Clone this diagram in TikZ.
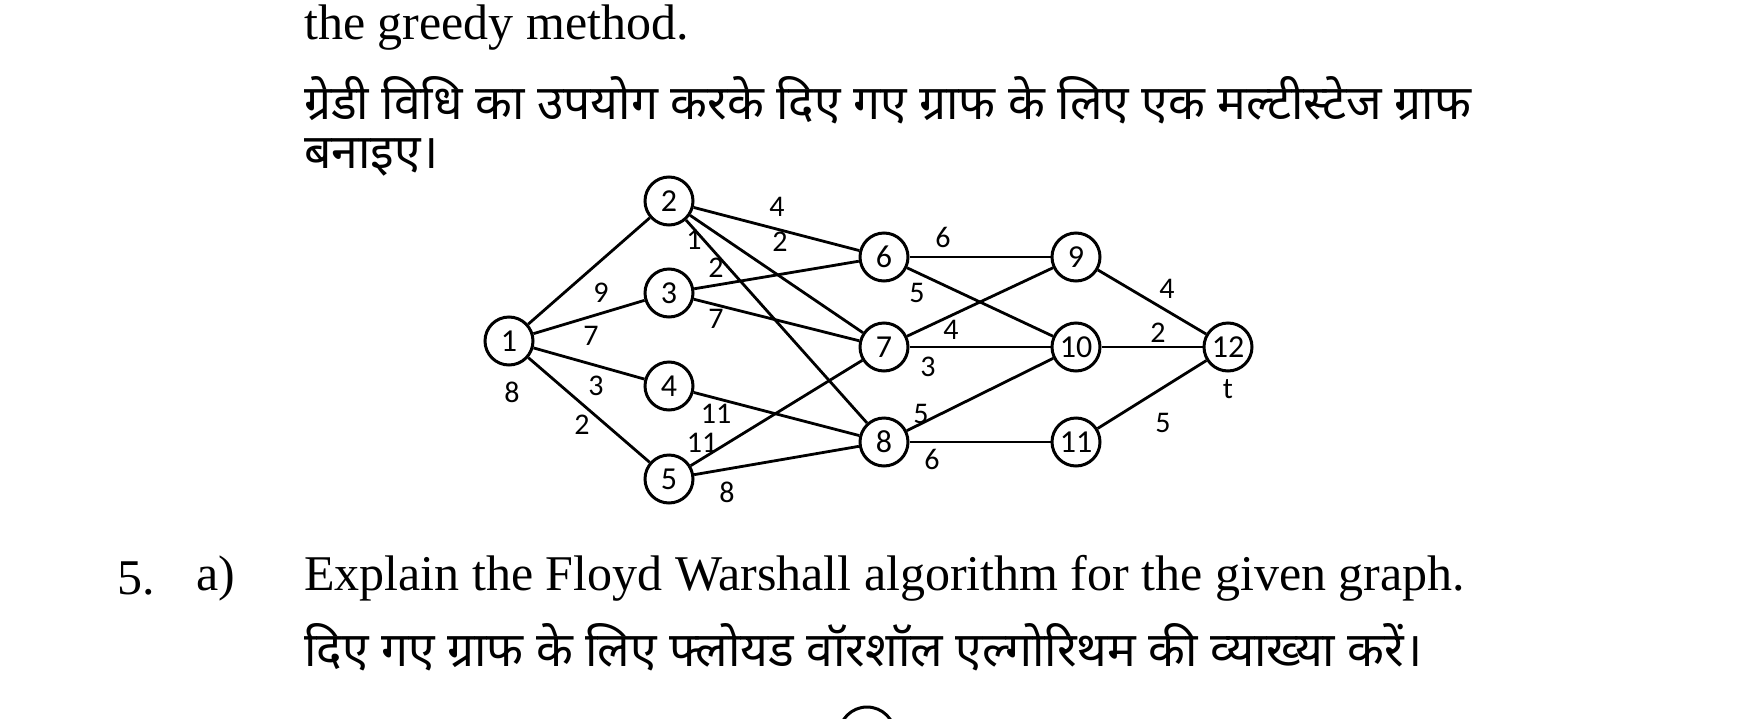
\documentclass[tikz,border=0pt]{standalone}
\usepackage{fontspec}
\setmainfont{Liberation Serif}
\newfontfamily\graphfont{Carlito}
\newfontfamily\hindifont[Script=Devanagari]{Noto Sans}
\begin{document}
\begin{tikzpicture}[x=1pt,y=-1pt,
  nd/.style={circle,draw,line width=3pt,minimum size=48pt,inner sep=0pt,font=\graphfont\fontsize{32}{32}\selectfont},
  ed/.style={line width=2.8pt},
  lb/.style={font=\graphfont\fontsize{30}{30}\selectfont,inner sep=0pt},
  tx/.style={anchor=west,inner sep=0pt,font=\fontsize{50}{56}\selectfont},
  hi/.style={anchor=west,inner sep=0pt,font=\hindifont\fontsize{48}{54}\selectfont}]
\useasboundingbox (0,0) rectangle (1754,718);
\clip (0,0) rectangle (1754,718);
\node[tx] (t1) at (304,28) {the greedy method.};
\node[hi] (h1) at (304,100) {ग्रेडी विधि का उपयोग करके दिए गए ग्राफ के लिए एक मल्टीस्टेज ग्राफ};
\node[hi] (h2) at (304,157) {बनाइए।};
\node[tx] (q5) at (117,578) {5.};
\node[tx] (qa) at (196,578) {a)};
\node[tx] (t2) at (304,578) {Explain the Floyd Warshall algorithm for the given graph.};
\node[hi] (h3) at (304,647) {दिए गए ग्राफ के लिए फ्लोयड वॉरशॉल एल्गोरिथम की व्याख्या करें।};
\node[nd,minimum size=56pt] (b1) at (867,735) {};

\node[nd] (n1) at (509,341) {1};
\node[nd] (n2) at (669,201) {2};
\node[nd] (n3) at (669,293) {3};
\node[nd] (n4) at (669,386) {4};
\node[nd] (n5) at (669,479) {5};
\node[nd] (n6) at (884,257) {6};
\node[nd] (n7) at (884,347) {7};
\node[nd] (n8) at (884,442) {8};
\node[nd] (n9) at (1076,257) {9};
\node[nd] (n10) at (1076,347) {10};
\node[nd] (n11) at (1076,442) {11};
\node[nd] (n12) at (1228,347) {12};
\foreach \a/\b in {n1/n2,n1/n3,n1/n4,n1/n5,n2/n6,n2/n7,n2/n8,n3/n6,n3/n7,n4/n8,n5/n7,n5/n8,n6/n9,n6/n10,n7/n9,n7/n10,n8/n10,n8/n11,n9/n12,n10/n12,n11/n12}
  \draw[ed] (\a) -- (\b);
\node[lb] (l1) at (777,207) {4};
\node[lb] (l2) at (694,240) {1};
\node[lb] (l3) at (780,242) {2};
\node[lb] (l4) at (716,268) {2};
\node[lb] (l5) at (601,293) {9};
\node[lb] (l6) at (591,336) {7};
\node[lb] (l7) at (716,319) {7};
\node[lb] (l8) at (512,392) {8};
\node[lb] (l9) at (596,386) {3};
\node[lb] (l10) at (582,425) {2};
\node[lb] (l11) at (716,414) {11};
\node[lb] (l12) at (702,443) {11};
\node[lb] (l13) at (727,492) {8};
\node[lb] (l14) at (943,237) {6};
\node[lb] (l15) at (917,293) {5};
\node[lb] (l16) at (951,330) {4};
\node[lb] (l17) at (928,367) {3};
\node[lb] (l18) at (921,414) {5};
\node[lb] (l19) at (932,459) {6};
\node[lb] (l20) at (1167,289) {4};
\node[lb] (l21) at (1158,333) {2};
\node[lb] (l22) at (1228,389) {t};
\node[lb] (l23) at (1163,423) {5};
\end{tikzpicture}
\end{document}
